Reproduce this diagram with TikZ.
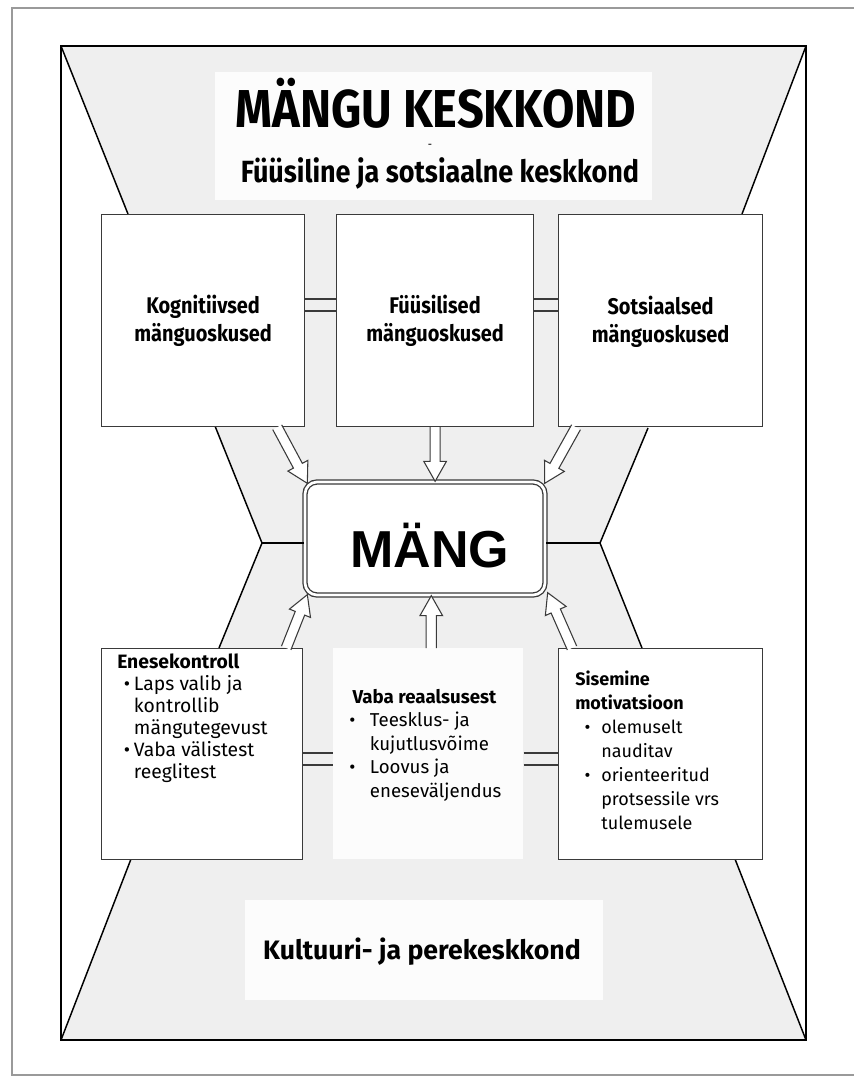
\documentclass[tikz,border=0pt]{standalone}
\usepackage{fontspec}
\setmainfont{Fira Sans}[FakeStretch=0.88]
\newfontfamily\listfont{Fira Sans}
\newfontfamily\mangfont{Liberation Sans}
\usepackage{xcolor}
\usepackage{tikz}
\usetikzlibrary{calc,positioning,backgrounds}
\definecolor{texture}{HTML}{EFEFEF}
\definecolor{patch}{HTML}{FCFCFC}
\definecolor{framegray}{HTML}{9A9A9A}
\definecolor{boxline}{HTML}{3A3A3A}
\tikzset{
  skillbox/.style={draw=boxline,line width=0.9pt,fill=white,align=center,inner sep=0pt,
    minimum height=159pt,font=\fontsize{17}{21}\selectfont\bfseries},
  lowbox/.style={draw=boxline,line width=0.9pt,fill=white,inner sep=0pt,minimum height=158pt},
  listtext/.style={anchor=north west,inner sep=0pt,align=left},
  chan/.style={draw=boxline,line width=0.9pt},
  arrowline/.style={draw=boxline,fill=white,line width=0.8pt,line join=miter},
  headtext/.style={inner sep=0pt,font=\bfseries}
}
% hollow arrow from #1 to #2
\newcommand{\hollowarrow}[2]{%
  \coordinate (ha-s) at #1;
  \coordinate (ha-t) at #2;
  \coordinate (ha-h) at ($(ha-t)!15pt!(ha-s)$);
  \filldraw[arrowline] ($(ha-s)!3.8pt!90:(ha-t)$) -- ($(ha-h)!3.8pt!90:(ha-t)$)
    -- ($(ha-h)!8.5pt!90:(ha-t)$) -- (ha-t) -- ($(ha-h)!8.5pt!-90:(ha-t)$)
    -- ($(ha-h)!3.8pt!-90:(ha-t)$) -- ($(ha-s)!3.8pt!-90:(ha-t)$);
}
% bullet column of width #1
\newcommand{\bul}[1]{\makebox[#1][l]{\textbullet}}

\begin{document}
\begin{tikzpicture}[x=0.75pt,y=-0.75pt]
\useasboundingbox (0,0) rectangle (853,1077);

% titles
\node[headtext,font=\fontsize{40}{44}\selectfont\bfseries] (title) at (436,103) {MÄNGU KESKKOND};
\node[inner sep=0pt,font=\fontsize{9}{10}\selectfont] (dash) at (430,146) {-};
\node[headtext,font=\fontsize{23}{27}\selectfont\bfseries] (fys-env) at (440,173) {Füüsiline ja sotsiaalne keskkond};

% skill boxes
\node[skillbox,anchor=north west,minimum width=152.25pt] (kog) at (101,214) {Kognitiivsed\\mänguoskused};
\node[skillbox,anchor=north west,minimum width=147.75pt] (fys) at (336,214) {Füüsilised\\mänguoskused};
\node[skillbox,anchor=north west,minimum width=153pt] (soc) at (558,214) {\\[-6pt]Sotsiaalsed\\mänguoskused};

% play
\node[draw=boxline,double=white,double distance=2pt,line width=1pt,rounded corners=9pt,
  fill=white,minimum width=180pt,minimum height=84.75pt,inner sep=0pt,
  font=\mangfont\fontsize{39}{42}\selectfont\bfseries] (mang) at (425,538.5)
  {\hspace*{7pt}\raisebox{-5pt}[\height][\depth]{MÄNG}};

% lower boxes
\node[lowbox,anchor=north west,minimum width=150.75pt] (ene) at (101,648) {};
\node[anchor=north west,fill=patch,inner sep=0pt,minimum width=142.5pt,minimum height=158pt] (vaba) at (333,648) {};
\node[lowbox,anchor=north west,minimum width=153pt] (mot) at (558,648) {};

\node[listtext,font=\listfont\fontsize{14.5}{16.5}\selectfont] (enetxt) at ($(ene.north west)+(16,6)$) {%
  \textbf{Enesekontroll}\\
  \hspace*{5pt}\bul{7.5pt}Laps valib ja\\
  \hspace*{12.5pt}kontrollib\\
  \hspace*{12.5pt}mängutegevust\\
  \hspace*{5pt}\bul{7.5pt}Vaba välistest\\
  \hspace*{12.5pt}reeglitest};
\node[listtext,font=\listfont\fontsize{14}{17.6}\selectfont] (vabatxt) at ($(vaba.north west)+(16,41)$) {%
  \hspace*{2.5pt}\textbf{Vaba reaalsusest}\\
  \bul{15.5pt}Teesklus- ja\\
  \hspace*{15.5pt}kujutlusvõime\\
  \bul{15.5pt}Loovus ja\\
  \hspace*{15.5pt}eneseväljendus};
\node[listtext,font=\listfont\fontsize{13.5}{18}\selectfont] (mottxt) at ($(mot.north west)+(17,23)$) {%
  \textbf{Sisemine}\\
  \textbf{motivatsioon}\\
  \hspace*{7pt}\bul{12.5pt}olemuselt\\
  \hspace*{19.5pt}nauditav\\
  \hspace*{7pt}\bul{12.5pt}orienteeritud\\
  \hspace*{19.5pt}protsessile vrs\\
  \hspace*{19.5pt}tulemusele};

\node[headtext,font=\listfont\fontsize{20}{24}\selectfont\bfseries] (kultuur) at (422,952) {Kultuuri- ja perekeskkond};

% background: frame, textured funnel, white patches
\begin{scope}[on background layer]
\fill[white] (0,0) rectangle (853,1077);
\draw[framegray,line width=1.5pt] (12,8) rectangle (870,1075);
\fill[texture] (61,46) -- (806,46) -- (742,214) -- (648,428) -- (600,543) -- (642,648)
  -- (735,859) -- (806,1040) -- (61,1040) -- (131,859) -- (219,648) -- (262,543)
  -- (215,426) -- (128,214) -- cycle;
\fill[patch] (215,72) rectangle (652,200);
\fill[patch] (245,900) rectangle (603,1000);
\draw[line width=1.1pt,line join=miter] (61,46) -- (128,214) (806,46) -- (742,214)
  (215,426) -- (262,543) -- (219,648) (648,428) -- (600,543) -- (642,648)
  (131,859) -- (61,1040) (735,859) -- (806,1040);
\end{scope}

% channels between boxes
\draw[chan] (kog.east |- 0,299) -- (fys.west |- 0,299) (kog.east |- 0,311) -- (fys.west |- 0,311);
\draw[chan] (fys.east |- 0,299) -- (soc.west |- 0,299) (fys.east |- 0,311) -- (soc.west |- 0,311);
\draw[chan] (ene.east |- 0,753) -- (vaba.west |- 0,753) (ene.east |- 0,765) -- (vaba.west |- 0,765);
\draw[chan] (vaba.east |- 0,753) -- (mot.west |- 0,753) (vaba.east |- 0,765) -- (mot.west |- 0,765);

% hexagon spokes
\coordinate (hexl) at (262,543);
\coordinate (hexr) at (600,543);
\draw[line width=1.1pt] (hexl) -- (hexl -| mang.west) (hexr) -- (hexr -| mang.east);

% arrows into play
\hollowarrow{($(kog.south east)+(-28,0)$)}{($(mang.north west)+(3,2)$)}
\hollowarrow{(fys.south)}{(fys.south |- mang.north)}
\hollowarrow{($(soc.south west)+(18,0)$)}{($(mang.north east)+(-1,2)$)}
\hollowarrow{($(ene.north east)+(-17,0)$)}{($(mang.south west)+(3,-1)$)}
\hollowarrow{($(vaba.north)+(3,0)$)}{($(vaba.north |- mang.south)+(3,0)$)}
\hollowarrow{($(mot.north west)+(14,0)$)}{($(mang.south east)+(2,-3)$)}

% outer frame
\draw[line width=2.2pt] (61,46) rectangle (806,1040);
\end{tikzpicture}
\end{document}
